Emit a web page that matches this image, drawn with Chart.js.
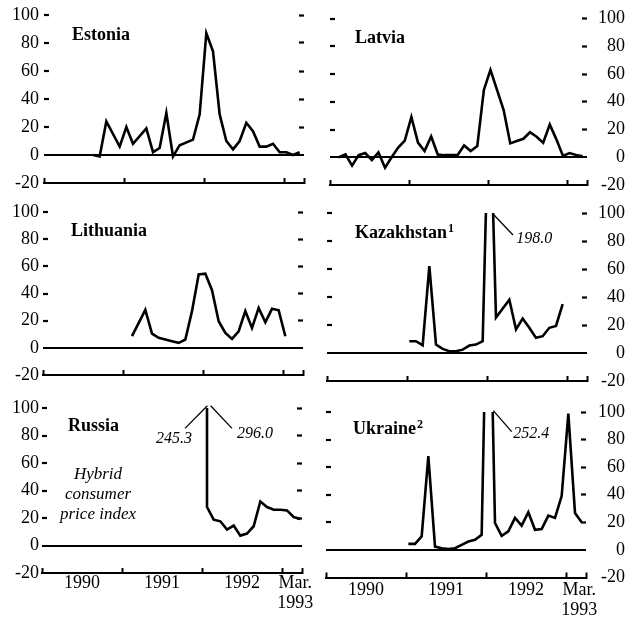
<!DOCTYPE html>
<html><head><meta charset="utf-8">
<script src="https://cdn.jsdelivr.net/npm/chart.js@4/dist/chart.umd.min.js"></script>
<style>
html,body{margin:0;padding:0;background:#fff;}
#wrap{position:relative;width:627px;height:622px;overflow:hidden;background:#fff;}
#wrap canvas{position:absolute;left:0;top:0;}
</style></head><body><div id="wrap"></div>
<script>
// Month index: 0 = Jan 1990 ... 38 = Mar 1993 (monthly % change)
const yearTickMonths = [0, 12, 24, 36, 39];
const yearLabels = {6: '1990', 18: '1991', 30: '1992', 38: ['Mar.', '1993']};
const yTicks = [-20, 0, 20, 40, 60, 80, 100];

const estoniaStart = 7;
const estonia = [0, -1, 24, null, 6, 20, 8, null, 19, 2, 5, 30, -1, 7, null, 11, 29, 87, 74, 29, 10, 4, 10, 23, 17, 6, 6, 8, 2, 2, 0, 2];

const latviaStart = 1;
const latvia = [0, 2, -6, 1.5, 3, -2, 3.5, -7.5, 0, 7, 12, 29, 10.5, 4.5, 15, 2, 1.5, 1.5, 1.5, 8.5, 4.5, 8, 48.5, 63, null, 34, 10, 11.7, 13.3, 18, 14.8, 10.5, 23.6, 12.9, 1, 3, 1.6, 0.7];

const lithuaniaStart = 13;
const lithuania = [8.6, null, 28, 10.5, 7.4, 6.1, 4.9, 3.7, 6.1, 27, 54, 54.6, 42.4, 19.6, 11, 6.6, 12.2, 27, 14.7, 29.4, 18.8, 28.7, 27.6, 8.5];

const kazakhstanStart = 12;
const kazakhstan = [8.4, 8.4, 5.5, 62, 6, 2.9, 1.2, 1.2, 2.4, 5.3, 6, 8.4, 198.0, 25.3, null, 38, 16.9, 24.6, 18, 10.8, 12, 18, 19.3, 34.9];

const russiaStart = 24;
const russiaPeak = 296.0;   // Jan 1992, off scale
const russia = [28, 18.8, 17.6, 11.6, 14.5, 7.2, 8.7, 14, 32, 28, 26, 26, 25.5, 20.7, 19.3];

const ukraineStart = 12;
const ukraine = [4.4, 4.4, 9.8, 68, 2.4, 1.2, 0.7, 1.2, 3.7, 6.1, 7.3, 11, 252.4, 19.5, 10.2, 13.4, 23.2, 17.6, 27.3, 14.6, 15.1, 24.9, 23.2, 39, 98.8, 26.8, 20];

const FONT = 'Liberation Serif';
const W = 627, H = 622;

function pts(start, vals, off) { return vals.map((v, i) => ({x: start + i + off, y: v})); }

const panels = [
  {title: 'Estonia', sup: '', col: 0, L: 44, R: 304, T: 15, B: 183, bottom: false, off: 0.35, tx: 28, ty: 24.5,
   data: off => pts(estoniaStart, estonia, off)},
  {title: 'Latvia', sup: '', col: 1, L: 330, R: 587, T: 18.5, B: 185, bottom: false, off: 0.35, tx: 25, ty: 24,
   data: off => pts(latviaStart, latvia, off)},
  {title: 'Lithuania', sup: '', col: 0, L: 43, R: 303, T: 212, B: 375, bottom: false, off: 0.35, tx: 28, ty: 23.5,
   data: off => pts(lithuaniaStart, lithuania, off)},
  {title: 'Kazakhstan', sup: '1', col: 1, L: 327, R: 587, T: 213, B: 381, bottom: false, off: 0.35, tx: 28, ty: 25,
   data: off => pts(kazakhstanStart, kazakhstan, off),
   notes: [{text: '198.0', from: [25.05, 98.6], to: [27.9, 84.3], at: [28.4, 78.6], align: 'left'}]},
  {title: 'Russia', sup: '', col: 0, L: 42, R: 302, T: 408, B: 573, bottom: true, off: 0.75, tx: 26, ty: 23, xpad: 5.2,
   data: off => [{x: russiaStart + off, y: russiaPeak}].concat(pts(russiaStart, russia, off)),
   notes: [{text: '245.3', from: [21.45, 85.2], to: [24.8, 101.6], at: [22.5, 74.5], align: 'right'},
           {text: '296.0', from: [25.3, 101.6], to: [28.5, 85.2], at: [29.25, 78.2], align: 'left'}],
   italic: [{text: 'Hybrid', at: [8.4, 48.4]}, {text: 'consumer', at: [8.4, 33.8]}, {text: 'price index', at: [8.4, 19.3]}]},
  {title: 'Ukraine', sup: '2', col: 1, L: 326, R: 586, T: 412, B: 577.5, bottom: true, off: 0.35, tx: 27, ty: 22, xpad: 7.7,
   data: off => pts(ukraineStart, ukraine, off),
   notes: [{text: '252.4', from: [25.1, 101.0], to: [27.85, 85.8], at: [28.1, 81.2], align: 'left'}]},
];

const transparent = 'rgba(0,0,0,0)';
const wrap = document.getElementById('wrap');

panels.forEach(p => {
  const cv = document.createElement('canvas');
  cv.width = W; cv.height = H;
  cv.style.width = W + 'px'; cv.style.height = H + 'px';
  wrap.appendChild(cv);
  const hX = p.bottom ? 40 : 8;
  const wL = p.col === 0 ? p.L : 8;
  const padLeft = p.col === 0 ? 0 : p.L - 8;
  const wR = p.col === 0 ? 8 : (625 - p.R);
  const padRight = p.col === 0 ? (W - p.R - 8) : 2;

  const textPlugin = {
    id: 'txt',
    afterDraw(chart) {
      const c = chart.ctx, a = chart.chartArea;
      const xs = chart.scales.x, ys = chart.scales.y;
      c.save();
      c.fillStyle = '#000';
      c.textBaseline = 'alphabetic';
      c.textAlign = 'left';
      c.font = 'bold 18px "' + FONT + '"';
      const tx = a.left + p.tx, ty = a.top + p.ty;
      c.fillText(p.title, tx, ty);
      if (p.sup) {
        const w = c.measureText(p.title).width;
        c.font = 'bold 12px "' + FONT + '"';
        c.fillText(p.sup, tx + w + 1, ty - 6);
      }
      (p.notes || []).forEach(n => {
        c.strokeStyle = '#000';
        c.lineWidth = 1.3;
        c.beginPath();
        c.moveTo(xs.getPixelForValue(n.from[0]), ys.getPixelForValue(n.from[1]));
        c.lineTo(xs.getPixelForValue(n.to[0]), ys.getPixelForValue(n.to[1]));
        c.stroke();
        c.font = 'italic 16px "' + FONT + '"';
        c.textAlign = n.align;
        c.fillText(n.text, xs.getPixelForValue(n.at[0]), ys.getPixelForValue(n.at[1]));
      });
      (p.italic || []).forEach(n => {
        c.font = 'italic 17px "' + FONT + '"';
        c.textAlign = 'center';
        c.fillText(n.text, xs.getPixelForValue(n.at[0]), ys.getPixelForValue(n.at[1]));
      });
      c.restore();
    }
  };

  const xFont = {family: FONT, size: 18, lineHeight: 1.12};
  const yFont = {family: FONT, size: 18, lineHeight: 0.5};

  new Chart(cv, {
    type: 'line',
    data: {
      datasets: [{
        data: p.data(p.off),
        borderColor: '#000',
        borderWidth: 2.6,
        pointRadius: 0,
        tension: 0,
        fill: false,
        spanGaps: true,
        clip: 0,
        borderJoinStyle: 'miter'
      }]
    },
    options: {
      responsive: false,
      animation: false,
      devicePixelRatio: 1,
      layout: {padding: {left: padLeft, right: padRight, top: p.T, bottom: H - p.B - hX}},
      plugins: {legend: {display: false}, tooltip: {enabled: false}, title: {display: false}},
      scales: {
        x: {
          type: 'linear', position: 'bottom', min: 0, max: 39,
          afterBuildTicks: s => { s.ticks = [0, 6, 12, 18, 24, 30, 36, 38, 39].map(v => ({value: v})); },
          afterFit: s => { s.height = hX; },
          ticks: {
            autoSkip: false, maxRotation: 0, minRotation: 0,
            padding: p.xpad || 4,
            font: xFont, color: '#000',
            callback: v => p.bottom ? (yearLabels[v] !== undefined ? yearLabels[v] : '') : ''
          },
          grid: {
            drawOnChartArea: false, drawTicks: true, tickLength: -5, tickWidth: 2,
            tickColor: ctx => (ctx.tick && yearTickMonths.includes(ctx.tick.value)) ? '#000' : transparent
          },
          border: {display: true, color: '#000', width: 2}
        },
        y: {
          type: 'linear', position: 'left', min: -20, max: 100,
          afterBuildTicks: s => { s.ticks = yTicks.map(v => ({value: v})); },
          afterFit: s => { s.width = wL; },
          ticks: {
            padding: p.col === 0 ? p.L - 34 : 0, font: yFont, color: '#000',
            callback: v => p.col === 0 ? String(v) : ''
          },
          grid: {
            drawOnChartArea: true, drawTicks: true, tickLength: -5, tickWidth: 2.2,
            color: ctx => (ctx.tick && ctx.tick.value === 0) ? '#000' : transparent,
            lineWidth: 2,
            tickColor: ctx => (ctx.tick && ctx.tick.value > 0) ? '#000' : transparent
          },
          border: {display: false}
        },
        y2: {
          type: 'linear', position: 'right', min: -20, max: 100,
          afterBuildTicks: s => { s.ticks = yTicks.map(v => ({value: v})); },
          afterFit: s => { s.width = wR; },
          ticks: {
            padding: 0, crossAlign: 'far', font: yFont, color: '#000',
            callback: v => p.col === 1 ? String(v) : ''
          },
          grid: {
            drawOnChartArea: false, drawTicks: true, tickLength: -5, tickWidth: 2.2,
            tickColor: ctx => (ctx.tick && ctx.tick.value > 0) ? '#000' : transparent
          },
          border: {display: false}
        }
      }
    },
    plugins: [textPlugin]
  });
});
</script></body></html>
